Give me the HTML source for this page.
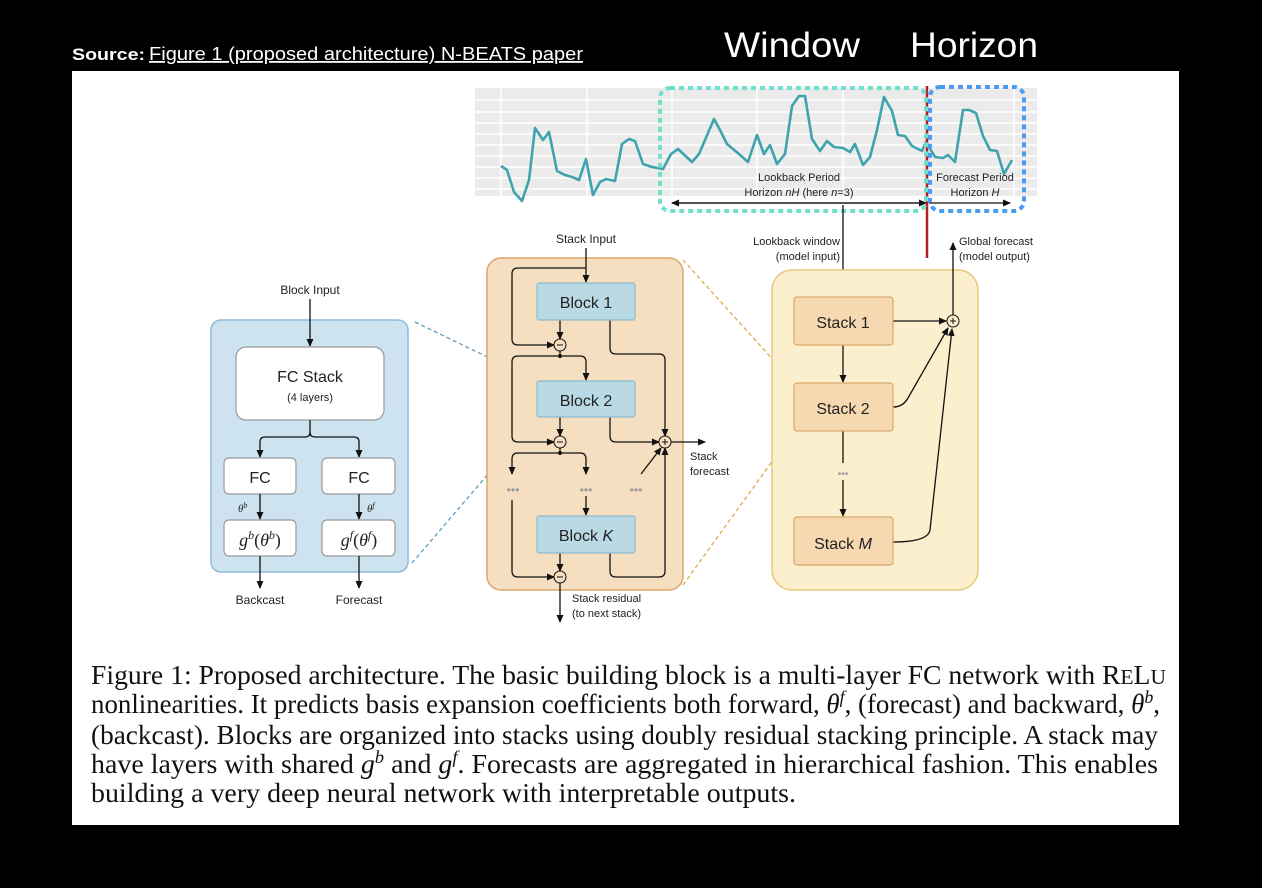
<!DOCTYPE html>
<html><head><meta charset="utf-8"><style>
html,body{margin:0;padding:0;background:#000;width:1262px;height:888px;overflow:hidden}
svg{display:block}
.s{font-family:"Liberation Sans",sans-serif}
</style></head><body>
<svg width="1262" height="888" viewBox="0 0 1262 888" xmlns="http://www.w3.org/2000/svg">
<defs>
<marker id="a" markerWidth="8" markerHeight="8" refX="7" refY="4" orient="auto" markerUnits="userSpaceOnUse"><path d="M0,0.5 L8,4 L0,7.5z" fill="#111"/></marker>
</defs>
<rect width="1262" height="888" fill="#000"/>
<text x="72" y="60" class="s" font-size="17" font-weight="bold" fill="#fff" textLength="73" lengthAdjust="spacingAndGlyphs">Source:</text>
<text x="149" y="60" class="s" font-size="18" fill="#fff" text-decoration="underline" textLength="434" lengthAdjust="spacingAndGlyphs">Figure 1 (proposed architecture) N-BEATS paper</text>
<text x="724" y="57" class="s" font-size="35" fill="#fff" textLength="136" lengthAdjust="spacingAndGlyphs">Window</text>
<text x="910" y="57" class="s" font-size="35" fill="#fff" textLength="128" lengthAdjust="spacingAndGlyphs">Horizon</text>
<rect x="72" y="71" width="1107" height="754" fill="#fff"/>

<!-- chart -->
<rect x="475" y="88" width="562" height="108" fill="#ebebeb"/>
<g stroke="#fff" stroke-width="1.5">
<line x1="475" y1="100" x2="1037" y2="100"/><line x1="475" y1="112" x2="1037" y2="112"/><line x1="475" y1="123" x2="1037" y2="123"/><line x1="475" y1="134" x2="1037" y2="134"/><line x1="475" y1="145" x2="1037" y2="145"/><line x1="475" y1="156" x2="1037" y2="156"/><line x1="475" y1="167" x2="1037" y2="167"/><line x1="475" y1="178" x2="1037" y2="178"/><line x1="475" y1="189" x2="1037" y2="189"/>
<line x1="501" y1="88" x2="501" y2="196"/><line x1="587" y1="88" x2="587" y2="196"/><line x1="672" y1="88" x2="672" y2="196"/><line x1="757" y1="88" x2="757" y2="196"/><line x1="843" y1="88" x2="843" y2="196"/><line x1="928" y1="88" x2="928" y2="196"/><line x1="1014" y1="88" x2="1014" y2="196"/>
</g>
<polyline fill="none" stroke="#3fa3ad" stroke-width="2.6" stroke-linejoin="round" points="501,166 507,170 514,192 522,201 529,180 535,128 543,140 549,132 557,171 565,175 572,177 579,180 586,159 593,195 600,182 606,179 615,181 622,144 629,139 635,141 643,164 652,167 663,169 671,154 678,149 692,162 699,154 714,119 720,130 727,144 739,154 748,162 757,135 764,154 770,145 777,164 785,154 792,106 799,96 805,96 812,139 820,151 827,141 834,147 843,148 850,152 855,144 863,165 870,157 877,130 884,97 892,111 898,135 905,136 912,146 922,151 926,142 935,157 943,158 948,155 955,162 963,110 969,110 976,113 983,136 990,150 997,151 1004,174 1012,160"/>
<text x="799" y="181" class="s" font-size="11" fill="#222" text-anchor="middle">Lookback Period</text>
<text x="799" y="196" class="s" font-size="11" fill="#222" text-anchor="middle">Horizon <tspan font-style="italic">nH</tspan> (here <tspan font-style="italic">n</tspan>=3)</text>
<text x="975" y="181" class="s" font-size="11" fill="#222" text-anchor="middle">Forecast Period</text>
<text x="975" y="196" class="s" font-size="11" fill="#222" text-anchor="middle">Horizon <tspan font-style="italic">H</tspan></text>
<line x1="926" y1="203" x2="672" y2="203" stroke="#111" stroke-width="1.3" marker-end="url(#a)"/>
<line x1="672" y1="203" x2="926" y2="203" stroke="#111" stroke-width="1.3" marker-end="url(#a)"/>
<line x1="929" y1="203" x2="1010" y2="203" stroke="#111" stroke-width="1.3" marker-end="url(#a)"/>
<line x1="927" y1="86" x2="927" y2="258" stroke="#b02020" stroke-width="2.5"/>
<rect x="660" y="88" width="266" height="123" rx="10" fill="none" stroke="#6fe0cc" stroke-width="4" stroke-dasharray="5,4"/>
<rect x="930" y="87" width="94" height="124" rx="10" fill="none" stroke="#4a9cf0" stroke-width="4" stroke-dasharray="5,4"/>

<!-- top right labels -->
<line x1="843" y1="205" x2="843" y2="296" stroke="#111" stroke-width="1.3" marker-end="url(#a)"/>
<text x="840" y="245" class="s" font-size="11" fill="#222" text-anchor="end">Lookback window</text>
<text x="840" y="260" class="s" font-size="11" fill="#222" text-anchor="end">(model input)</text>
<text x="959" y="245" class="s" font-size="11" fill="#222">Global forecast</text>
<text x="959" y="260" class="s" font-size="11" fill="#222">(model output)</text>

<!-- dashed connectors -->
<line x1="415" y1="322" x2="537" y2="381" stroke="#5a9ac0" stroke-width="1.3" stroke-dasharray="4,3"/>
<line x1="412" y1="563" x2="537" y2="417" stroke="#5a9ac0" stroke-width="1.3" stroke-dasharray="4,3"/>
<line x1="683" y1="260" x2="794" y2="383" stroke="#e0a84a" stroke-width="1.3" stroke-dasharray="4,3"/>
<line x1="683" y1="585" x2="794" y2="431" stroke="#e0a84a" stroke-width="1.3" stroke-dasharray="4,3"/>

<!-- left panel -->
<rect x="211" y="320" width="197" height="252" rx="10" fill="#cde4f0" stroke="#8cbcd8" stroke-width="1.5"/>
<text x="310" y="294" class="s" font-size="12" fill="#222" text-anchor="middle">Block Input</text>
<line x1="310" y1="299" x2="310" y2="346" stroke="#111" stroke-width="1.3" marker-end="url(#a)"/>
<rect x="236" y="347" width="148" height="73" rx="10" fill="#fff" stroke="#999" stroke-width="1.2"/>
<text x="310" y="382" class="s" font-size="16" fill="#222" text-anchor="middle">FC Stack</text>
<text x="310" y="401" class="s" font-size="11" fill="#222" text-anchor="middle">(4 layers)</text>
<path d="M310,420 V432 Q310,437 305,437 H265 Q260,437 260,442 V457" fill="none" stroke="#111" stroke-width="1.3" marker-end="url(#a)"/>
<path d="M310,432 Q310,437 315,437 H354 Q359,437 359,442 V457" fill="none" stroke="#111" stroke-width="1.3" marker-end="url(#a)"/>
<rect x="224" y="458" width="72" height="36" rx="5" fill="#fff" stroke="#999" stroke-width="1.2"/>
<rect x="322" y="458" width="73" height="36" rx="5" fill="#fff" stroke="#999" stroke-width="1.2"/>
<text x="260" y="483" class="s" font-size="16" fill="#222" text-anchor="middle">FC</text>
<text x="359" y="483" class="s" font-size="16" fill="#222" text-anchor="middle">FC</text>
<line x1="260" y1="494" x2="260" y2="519" stroke="#111" stroke-width="1.3" marker-end="url(#a)"/>
<line x1="359" y1="494" x2="359" y2="519" stroke="#111" stroke-width="1.3" marker-end="url(#a)"/>
<text x="238" y="512" font-family="Liberation Serif,serif" font-size="11" font-style="italic" fill="#222">θ<tspan dy="-4" font-size="8">b</tspan></text>
<text x="367" y="512" font-family="Liberation Serif,serif" font-size="11" font-style="italic" fill="#222">θ<tspan dy="-4" font-size="8">f</tspan></text>
<rect x="224" y="520" width="72" height="36" rx="5" fill="#fff" stroke="#999" stroke-width="1.2"/>
<rect x="322" y="520" width="73" height="36" rx="5" fill="#fff" stroke="#999" stroke-width="1.2"/>
<text x="260" y="546" font-family="Liberation Serif,serif" font-size="18" fill="#222" text-anchor="middle"><tspan font-style="italic">g</tspan><tspan dy="-7" font-size="12" font-style="italic">b</tspan><tspan dy="7">(</tspan><tspan font-style="italic">θ</tspan><tspan dy="-7" font-size="12" font-style="italic">b</tspan><tspan dy="7">)</tspan></text>
<text x="359" y="546" font-family="Liberation Serif,serif" font-size="18" fill="#222" text-anchor="middle"><tspan font-style="italic">g</tspan><tspan dy="-7" font-size="12" font-style="italic">f</tspan><tspan dy="7">(</tspan><tspan font-style="italic">θ</tspan><tspan dy="-7" font-size="12" font-style="italic">f</tspan><tspan dy="7">)</tspan></text>
<line x1="260" y1="556" x2="260" y2="588" stroke="#111" stroke-width="1.3" marker-end="url(#a)"/>
<line x1="359" y1="556" x2="359" y2="588" stroke="#111" stroke-width="1.3" marker-end="url(#a)"/>
<text x="260" y="604" class="s" font-size="12" fill="#222" text-anchor="middle">Backcast</text>
<text x="359" y="604" class="s" font-size="12" fill="#222" text-anchor="middle">Forecast</text>

<!-- middle panel -->
<rect x="487" y="258" width="196" height="332" rx="14" fill="#f6dfc0" stroke="#d9a86a" stroke-width="1.5"/>
<text x="586" y="243" class="s" font-size="12" fill="#222" text-anchor="middle">Stack Input</text>
<line x1="586" y1="248" x2="586" y2="282" stroke="#111" stroke-width="1.3" marker-end="url(#a)"/>
<g fill="none" stroke="#111" stroke-width="1.3">
<path d="M586,268 H518 Q512,268 512,274 V339 Q512,345 518,345 H554" marker-end="url(#a)"/>
<line x1="560" y1="320" x2="560" y2="339" marker-end="url(#a)"/>
<path d="M560,351 V356 M560,356 H518 Q512,356 512,362 V436 Q512,442 518,442 H554" marker-end="url(#a)"/>
<path d="M560,356 H580 Q586,356 586,362 V380" marker-end="url(#a)"/>
<path d="M610,320 V348 Q610,354 616,354 H659 Q665,354 665,360 V436" marker-end="url(#a)"/>
<line x1="560" y1="417" x2="560" y2="436" marker-end="url(#a)"/>
<path d="M610,417 V436 Q610,442 616,442 H659" marker-end="url(#a)"/>
<line x1="671" y1="442" x2="705" y2="442" marker-end="url(#a)"/>
<path d="M560,448 V453 M560,453 H518 Q512,453 512,459 V474" marker-end="url(#a)"/>
<path d="M560,453 H580 Q586,453 586,459 V474" marker-end="url(#a)"/>
<line x1="641" y1="474" x2="661" y2="448" marker-end="url(#a)"/>
<line x1="586" y1="496" x2="586" y2="515" marker-end="url(#a)"/>
<path d="M512,500 V571 Q512,577 518,577 H554" marker-end="url(#a)"/>
<line x1="560" y1="553" x2="560" y2="571" marker-end="url(#a)"/>
<path d="M610,553 V571 Q610,577 616,577 H659 Q665,577 665,571 V448" marker-end="url(#a)"/>
<line x1="560" y1="583" x2="560" y2="622" marker-end="url(#a)"/>
</g>
<g fill="#111"><circle cx="560" cy="356" r="2"/><circle cx="560" cy="453" r="2"/></g>
<g fill="#9a9a9a" font-size="12" class="s" text-anchor="middle"><text x="513" y="494">•••</text><text x="586" y="494">•••</text><text x="636" y="494">•••</text></g>
<rect x="537" y="283" width="98" height="37" rx="2" fill="#b9d9e4" stroke="#8cbcd0" stroke-width="1.2"/>
<rect x="537" y="381" width="98" height="36" rx="2" fill="#b9d9e4" stroke="#8cbcd0" stroke-width="1.2"/>
<rect x="537" y="516" width="98" height="37" rx="2" fill="#b9d9e4" stroke="#8cbcd0" stroke-width="1.2"/>
<text x="586" y="308" class="s" font-size="16" fill="#222" text-anchor="middle">Block 1</text>
<text x="586" y="406" class="s" font-size="16" fill="#222" text-anchor="middle">Block 2</text>
<text x="586" y="541" class="s" font-size="16" fill="#222" text-anchor="middle">Block <tspan font-style="italic">K</tspan></text>
<g fill="#f6dfc0" stroke="#111" stroke-width="1"><circle cx="560" cy="345" r="6"/><circle cx="560" cy="442" r="6"/><circle cx="560" cy="577" r="6"/><circle cx="665" cy="442" r="6"/></g>
<g stroke="#111" stroke-width="1"><line x1="557" y1="345" x2="563" y2="345"/><line x1="557" y1="442" x2="563" y2="442"/><line x1="557" y1="577" x2="563" y2="577"/><line x1="662" y1="442" x2="668" y2="442"/><line x1="665" y1="439" x2="665" y2="445"/></g>
<text x="690" y="460" class="s" font-size="11" fill="#222">Stack</text>
<text x="690" y="475" class="s" font-size="11" fill="#222">forecast</text>
<text x="572" y="602" class="s" font-size="11" fill="#222">Stack residual</text>
<text x="572" y="617" class="s" font-size="11" fill="#222">(to next stack)</text>

<!-- right panel -->
<rect x="772" y="270" width="206" height="320" rx="20" fill="#fcefcd" stroke="#e5c87a" stroke-width="1.5"/>
<g fill="none" stroke="#111" stroke-width="1.3">
<line x1="893" y1="321" x2="946" y2="321" marker-end="url(#a)"/>
<path d="M893,407 Q903,407 908,398 L948,328" marker-end="url(#a)"/>
<path d="M893,542 Q928,542 930,530 L952,329" marker-end="url(#a)"/>
<line x1="953" y1="315" x2="953" y2="243" marker-end="url(#a)"/>
<line x1="843" y1="345" x2="843" y2="382" marker-end="url(#a)"/>
<line x1="843" y1="431" x2="843" y2="463"/>
<line x1="843" y1="480" x2="843" y2="516" marker-end="url(#a)"/>
</g>
<text x="843" y="477" class="s" font-size="10" fill="#9a9a9a" text-anchor="middle">•••</text>
<circle cx="953" cy="321" r="6" fill="#fcefcd" stroke="#111" stroke-width="1"/>
<line x1="950" y1="321" x2="956" y2="321" stroke="#111"/><line x1="953" y1="318" x2="953" y2="324" stroke="#111"/>
<rect x="794" y="297" width="99" height="48" rx="3" fill="#f6d9b0" stroke="#d9a86a" stroke-width="1.2"/>
<rect x="794" y="383" width="99" height="48" rx="3" fill="#f6d9b0" stroke="#d9a86a" stroke-width="1.2"/>
<rect x="794" y="517" width="99" height="48" rx="3" fill="#f6d9b0" stroke="#d9a86a" stroke-width="1.2"/>
<text x="843" y="328" class="s" font-size="16" fill="#222" text-anchor="middle">Stack 1</text>
<text x="843" y="414" class="s" font-size="16" fill="#222" text-anchor="middle">Stack 2</text>
<text x="843" y="549" class="s" font-size="16" fill="#222" text-anchor="middle">Stack <tspan font-style="italic">M</tspan></text>

<!-- caption -->
<g font-family="Liberation Serif,serif" font-size="27" fill="#111">
<text x="91" y="684" textLength="1075" lengthAdjust="spacingAndGlyphs">Figure 1: Proposed architecture. The basic building block is a multi-layer FC network with R<tspan font-size="21">E</tspan>L<tspan font-size="21">U</tspan></text>
<text x="91" y="713" textLength="1069" lengthAdjust="spacingAndGlyphs">nonlinearities. It predicts basis expansion coefficients both forward, <tspan font-style="italic">θ</tspan><tspan dy="-10" font-size="18" font-style="italic">f</tspan><tspan dy="10">, (forecast) and backward, </tspan><tspan font-style="italic">θ</tspan><tspan dy="-10" font-size="18" font-style="italic">b</tspan><tspan dy="10">,</tspan></text>
<text x="91" y="744" textLength="1067" lengthAdjust="spacingAndGlyphs">(backcast). Blocks are organized into stacks using doubly residual stacking principle. A stack may</text>
<text x="91" y="773" textLength="1067" lengthAdjust="spacingAndGlyphs">have layers with shared <tspan font-style="italic">g</tspan><tspan dy="-10" font-size="18" font-style="italic">b</tspan><tspan dy="10"> and </tspan><tspan font-style="italic">g</tspan><tspan dy="-10" font-size="18" font-style="italic">f</tspan><tspan dy="10">. Forecasts are aggregated in hierarchical fashion. This enables</tspan></text>
<text x="91" y="802" textLength="705" lengthAdjust="spacingAndGlyphs">building a very deep neural network with interpretable outputs.</text>
</g>
</svg>
</body></html>
